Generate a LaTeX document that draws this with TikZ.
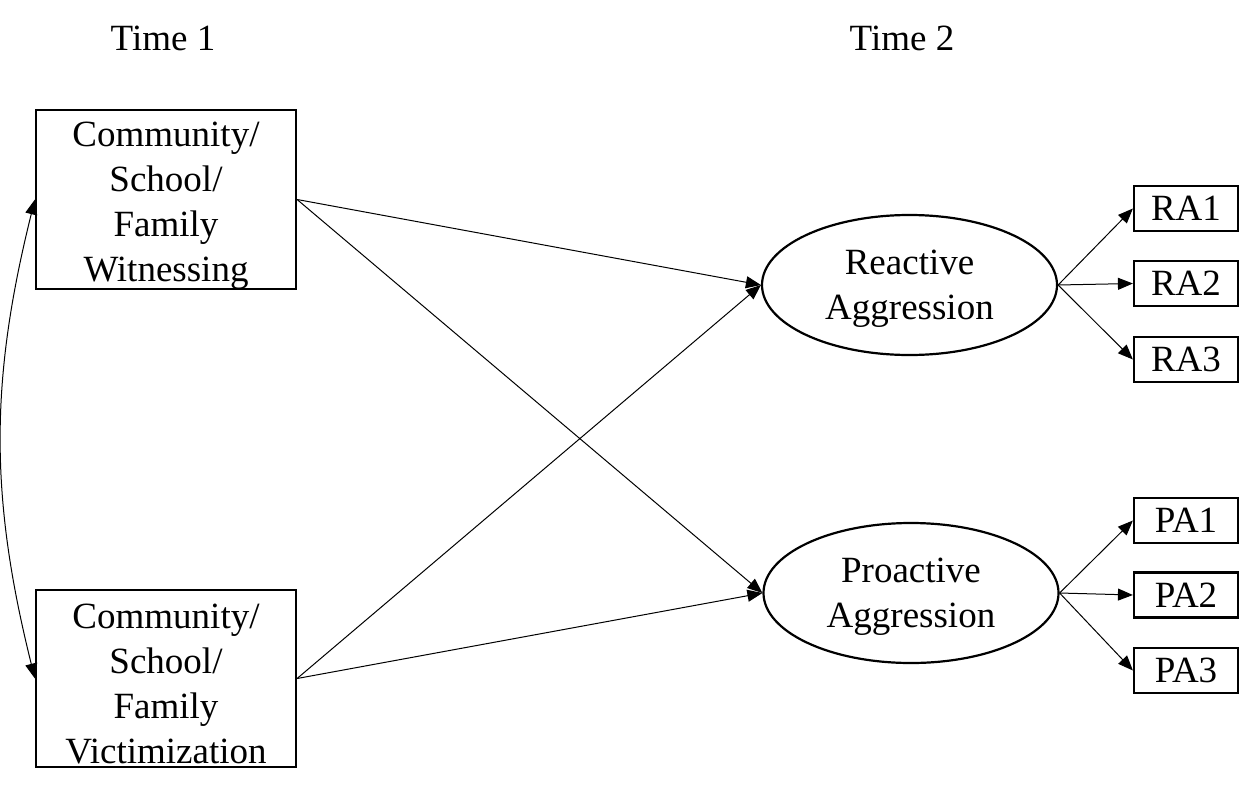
\documentclass[tikz,border=0pt]{standalone}
\usepackage{fontspec}
\setmainfont{Liberation Serif}
\usetikzlibrary{shapes.geometric,arrows.meta}
\newcommand\topstrut{\rule{0pt}{36pt}}
\newcommand\ellstrut{\rule{0pt}{32pt}}
\begin{document}
\begin{tikzpicture}[x=1pt,y=-1pt,
  txt/.style={font=\fontsize{37}{45}\selectfont, align=center},
  bigbox/.style={draw, line width=2.2pt, txt, minimum width=260pt, minimum height=177pt, inner sep=0pt},
  latent/.style={draw, ellipse, line width=2.2pt, txt, minimum width=295pt, minimum height=140pt, inner sep=0pt},
  ind/.style={draw, line width=2.2pt, txt, minimum width=104pt, minimum height=45pt, inner sep=0pt},
  arr/.style={line width=1pt, -{Triangle[length=15pt,width=12pt]}},
  darr/.style={line width=1pt, {Triangle[length=15pt,width=12pt]}-{Triangle[length=15pt,width=12pt]}}
]
\useasboundingbox (0,0) rectangle (1244,792);
\node[txt] (t1) at (163,38) {Time 1};
\node[txt] (t2) at (902,38) {Time 2};
\node[bigbox] (w) at (166,199.5) {\topstrut Community/\\School/\\Family\\Witnessing};
\node[bigbox] (v) at (166,678.5) {\topstrut Community/\\School/\\Family\\Victimization};
\node[latent] (re) at (909.5,285) {\ellstrut Reactive\\Aggression};
\node[latent] (pr) at (911,593) {\ellstrut Proactive\\Aggression};
\node[ind] (ra1) at (1186,208.5) {RA1};
\node[ind] (ra2) at (1186,283.5) {RA2};
\node[ind] (ra3) at (1186,359.5) {RA3};
\node[ind] (pa1) at (1186,520.5) {PA1};
\node[ind] (pa2) at (1186,595) {PA2};
\node[ind] (pa3) at (1186,670.5) {PA3};
\draw[arr] (w.east) -- (re.west);
\draw[arr] (w.east) -- (pr.west);
\draw[arr] (v.east) -- (re.west);
\draw[arr] (v.east) -- (pr.west);
\draw[arr] (re.east) -- (ra1.west);
\draw[arr] (re.east) -- (ra2.west);
\draw[arr] (re.east) -- (ra3.west);
\draw[arr] (pr.east) -- (pa1.west);
\draw[arr] (pr.east) -- (pa2.west);
\draw[arr] (pr.east) -- (pa3.west);
\draw[darr] (w.west) to[bend right=14] (v.west);
\end{tikzpicture}
\end{document}
